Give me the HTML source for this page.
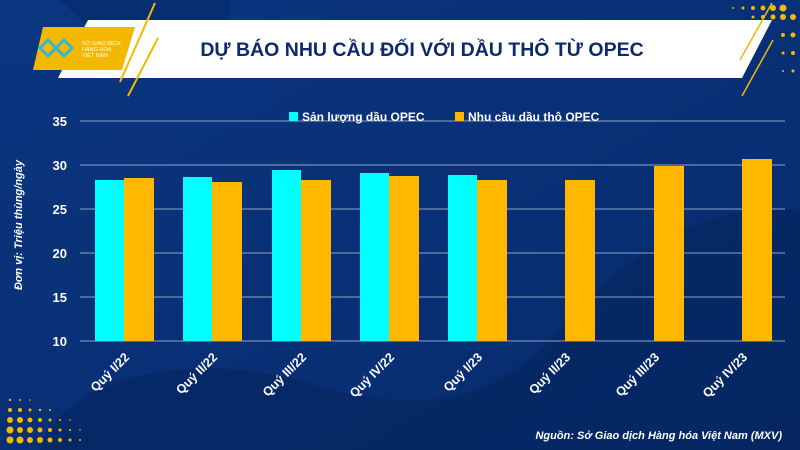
<!DOCTYPE html>
<html><head><meta charset="utf-8"><style>
html,body{margin:0;padding:0;width:800px;height:450px;overflow:hidden;background:#06286a}
svg{display:block}
text{font-family:"Liberation Sans",sans-serif}
</style></head><body>
<svg width="800" height="450" viewBox="0 0 800 450" xmlns="http://www.w3.org/2000/svg">
<defs>
<linearGradient id="bg" x1="0" y1="0" x2="1" y2="1">
<stop offset="0" stop-color="#0b3680"/><stop offset="1" stop-color="#062a6c"/>
</linearGradient>
</defs>
<rect width="800" height="450" fill="url(#bg)"/>
<path d="M60,0 C90,30 120,50 180,50 C240,50 230,0 230,0Z" fill="#052560" opacity="0.6"/>
<path d="M0,200 C80,180 160,300 260,260 C200,340 100,300 0,320Z" fill="#0a3278" opacity="0.4"/>
<path d="M40,450 C60,380 180,350 300,380 C420,420 500,400 560,330 C620,260 700,200 800,210 L800,450Z" fill="#05255e" opacity="0.6"/>
<path d="M0,60 C40,90 80,40 130,100 C180,160 250,140 280,100 L280,0 0,0Z" fill="#0a3580" opacity="0.3"/>
<g fill="#f5b800">
<circle cx="10" cy="420" r="3"/><circle cx="20" cy="420" r="3"/><circle cx="30" cy="420" r="2.5"/><circle cx="40" cy="420" r="2"/><circle cx="50" cy="420" r="1.5"/><circle cx="60" cy="420" r="1"/><circle cx="70" cy="420" r="0.8"/>
<circle cx="10" cy="430" r="3.5"/><circle cx="20" cy="430" r="3"/><circle cx="30" cy="430" r="3"/><circle cx="40" cy="430" r="2.5"/><circle cx="50" cy="430" r="2"/><circle cx="60" cy="430" r="1.5"/><circle cx="70" cy="430" r="1"/><circle cx="80" cy="430" r="0.8"/>
<circle cx="10" cy="440" r="3.5"/><circle cx="20" cy="440" r="3.5"/><circle cx="30" cy="440" r="3"/><circle cx="40" cy="440" r="3"/><circle cx="50" cy="440" r="2.5"/><circle cx="60" cy="440" r="2"/><circle cx="70" cy="440" r="1.5"/><circle cx="80" cy="440" r="1"/>
<circle cx="10" cy="410" r="2"/><circle cx="20" cy="410" r="2"/><circle cx="30" cy="410" r="1.5"/><circle cx="40" cy="410" r="1.2"/><circle cx="50" cy="410" r="1"/>
<circle cx="10" cy="400" r="1.2"/><circle cx="20" cy="400" r="1"/><circle cx="30" cy="400" r="0.8"/>
<circle cx="783" cy="8" r="3.5"/><circle cx="773" cy="8" r="3"/><circle cx="763" cy="8" r="2.5"/><circle cx="753" cy="8" r="2"/><circle cx="743" cy="8" r="1.5"/><circle cx="733" cy="8" r="1"/>
<circle cx="793" cy="17" r="3"/><circle cx="783" cy="17" r="3"/><circle cx="773" cy="17" r="2.5"/><circle cx="763" cy="17" r="2"/><circle cx="753" cy="17" r="1.5"/>
<circle cx="793" cy="35" r="2.5"/><circle cx="783" cy="35" r="2"/><circle cx="793" cy="53" r="2"/><circle cx="783" cy="53" r="1.5"/><circle cx="793" cy="71" r="1.5"/><circle cx="783" cy="71" r="1"/>
</g>
<polygon points="88,20 772,20 742,78 58,78" fill="#ffffff"/>
<polygon points="43,27 135,27 122,70 33,70" fill="#f5b800"/>
<line x1="155" y1="3" x2="120" y2="82" stroke="#f5b800" stroke-width="2"/>
<line x1="158" y1="38" x2="128" y2="96" stroke="#f5b800" stroke-width="2"/>
<line x1="772" y1="3" x2="740" y2="60" stroke="#f5b800" stroke-width="1.5"/>
<line x1="773" y1="40" x2="742" y2="96" stroke="#f5b800" stroke-width="1.5"/>
<path d="M40,48 l8,-8 l8,8 l8,-8 l8,8 l-8,8 l-8,-8 l-8,8Z" fill="none" stroke="#2fb6d8" stroke-width="3"/>
<text x="82" y="45" font-size="5.5" fill="#fff">SỞ GIAO DỊCH</text>
<text x="82" y="51" font-size="5.5" fill="#fff">HÀNG HÓA</text>
<text x="82" y="57" font-size="5.5" fill="#fff">VIỆT NAM</text>
<text x="422" y="56" font-size="19.5" font-weight="bold" fill="#0d2a6b" text-anchor="middle">DỰ BÁO NHU CẦU ĐỐI VỚI DẦU THÔ TỪ OPEC</text>
<g stroke="#8fa0c8" stroke-width="1">
<line x1="80" y1="121" x2="785" y2="121"/><line x1="80" y1="165" x2="785" y2="165"/><line x1="80" y1="209" x2="785" y2="209"/><line x1="80" y1="253" x2="785" y2="253"/><line x1="80" y1="297" x2="785" y2="297"/><line x1="80" y1="341" x2="785" y2="341"/>
</g>
<g font-size="13" font-weight="bold" fill="#fff" text-anchor="end">
<text x="67" y="126">35</text><text x="67" y="170">30</text><text x="67" y="214">25</text><text x="67" y="258">20</text><text x="67" y="302">15</text><text x="67" y="346">10</text>
</g>
<text transform="translate(22,225) rotate(-90)" font-size="11" font-weight="bold" font-style="italic" fill="#fff" text-anchor="middle">Đơn vị: Triệu thùng/ngày</text>
<rect x="289" y="112" width="9" height="9" fill="#00ffff"/>
<text x="302" y="121" font-size="12" font-weight="bold" fill="#fff">Sản lượng dầu OPEC</text>
<rect x="455" y="112" width="9" height="9" fill="#ffb700"/>
<text x="468" y="121" font-size="12" font-weight="bold" fill="#fff">Nhu cầu dầu thô OPEC</text>
<g fill="#00ffff">
<rect x="95" y="180" width="29" height="161"/>
<rect x="183" y="177" width="29" height="164"/>
<rect x="272" y="170" width="29" height="171"/>
<rect x="360" y="173" width="29" height="168"/>
<rect x="448" y="175" width="29" height="166"/>
</g>
<g fill="#ffb700">
<rect x="124" y="178" width="30" height="163"/>
<rect x="212" y="182" width="30" height="159"/>
<rect x="301" y="180" width="30" height="161"/>
<rect x="389" y="176" width="30" height="165"/>
<rect x="477" y="180" width="30" height="161"/>
<rect x="565" y="180" width="30" height="161"/>
<rect x="654" y="166" width="30" height="175"/>
<rect x="742" y="159" width="30" height="182"/>
</g>
<g font-size="12.5" font-weight="bold" fill="#fff" text-anchor="end">
<text transform="translate(130,358) rotate(-45)">Quý I/22</text>
<text transform="translate(218,358) rotate(-45)">Quý II/22</text>
<text transform="translate(307,358) rotate(-45)">Quý III/22</text>
<text transform="translate(395,358) rotate(-45)">Quý IV/22</text>
<text transform="translate(483,358) rotate(-45)">Quý I/23</text>
<text transform="translate(571,358) rotate(-45)">Quý II/23</text>
<text transform="translate(660,358) rotate(-45)">Quý III/23</text>
<text transform="translate(748,358) rotate(-45)">Quý IV/23</text>
</g>
<text x="782" y="439" font-size="11" font-weight="bold" font-style="italic" fill="#fff" text-anchor="end">Nguồn: Sở Giao dịch Hàng hóa Việt Nam (MXV)</text>
</svg>
</body></html>
